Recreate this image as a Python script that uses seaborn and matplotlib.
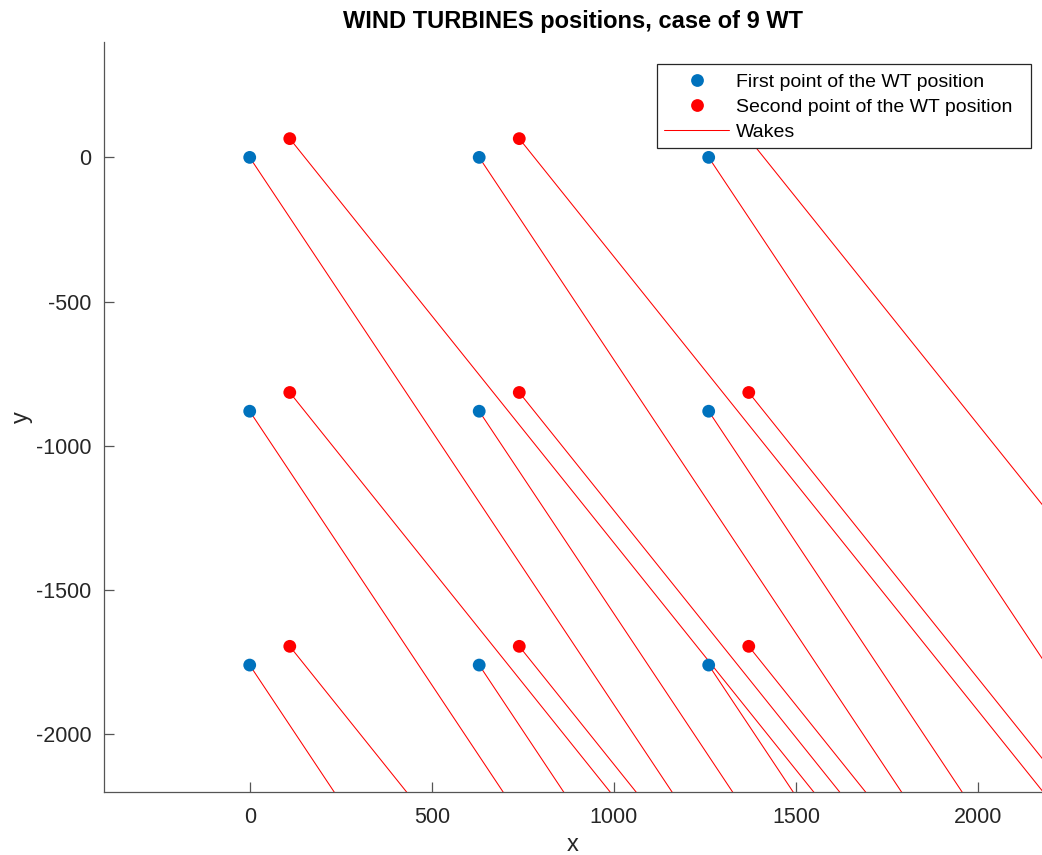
import numpy as np
import pandas as pd
import matplotlib
matplotlib.use("Agg")
import matplotlib.pyplot as plt
from matplotlib.lines import Line2D
from matplotlib.patches import Rectangle
import seaborn as sns

# Wind turbine layout: first and second reference points of each WT
first_x = [0, 630, 1260, 0, 630, 1260, 0, 630, 1260]
first_y = [0, 0, 0, -880, -880, -880, -1760, -1760, -1760]
second_x = [110, 740, 1370, 110, 740, 1370, 110, 740, 1370]
second_y = [65, 65, 65, -815, -815, -815, -1695, -1695, -1695]

# Wake direction, expressed as downstream x shift per unit drop in y
first_wake_dxdy = 0.527
second_wake_dxdy = 0.635
wake_drop = 3000.0

x_ticks = [0, 500, 1000, 1500, 2000]
y_ticks = [-2000, -1500, -1000, -500, 0]

sns.set_theme(style="white")
plt.rcParams["font.family"] = ["Liberation Sans", "DejaVu Sans"]

blue = "#0072BD"
red = "#FF0000"
dark = "#262626"
axis_grey = "#555555"

pts_first = pd.DataFrame({"x": first_x, "y": first_y})
pts_second = pd.DataFrame({"x": second_x, "y": second_y})

# Wake segments, one per point, running downstream from the point
rows = []
wid = 0
for xs, ys, k in ((first_x, first_y, first_wake_dxdy), (second_x, second_y, second_wake_dxdy)):
    for x0, y0 in zip(xs, ys):
        rows.append({"wake": wid, "x": x0, "y": y0})
        rows.append({"wake": wid, "x": x0 + k * wake_drop, "y": y0 - wake_drop})
        wid += 1
wakes = pd.DataFrame(rows)

W, H = 1042, 855
fig = plt.figure(figsize=(W / 100, H / 100), dpi=100)
ax = fig.add_axes([104 / W, (H - 792) / H, (W - 104) / W, (792 - 42) / H])

sns.lineplot(data=wakes, x="x", y="y", units="wake", estimator=None, sort=False,
             color=red, linewidth=0.75, ax=ax, legend=False, zorder=2)
sns.scatterplot(data=pts_first, x="x", y="y", color=blue, s=85, edgecolor="none",
                ax=ax, legend=False, zorder=3)
sns.scatterplot(data=pts_second, x="x", y="y", color=red, s=85, edgecolor="none",
                ax=ax, legend=False, zorder=3)

ax.set_xlim(-400, 2175)
ax.set_ylim(-2200, 400)
ax.set_xticks(x_ticks)
ax.set_yticks(y_ticks)
ax.set_xticklabels([str(v) for v in x_ticks])
ax.set_yticklabels([str(v) for v in y_ticks])

for side in ("top", "right"):
    ax.spines[side].set_visible(False)
for side in ("left", "bottom"):
    ax.spines[side].set_color(axis_grey)
    ax.spines[side].set_linewidth(0.9)
ax.tick_params(axis="both", direction="in", length=7, width=0.9, color=axis_grey,
               labelcolor=dark, labelsize=15.5)
ax.tick_params(axis="x", pad=11)
ax.tick_params(axis="y", pad=9)
ax.tick_params(left=True, bottom=True)

ax.set_xlabel("x", fontsize=17, color=dark, labelpad=4)
ax.set_ylabel("y", fontsize=17, color=dark, labelpad=2)
ax.set_title("WIND TURBINES positions, case of 9 WT", fontsize=17,
             fontweight="bold", color="black", pad=10)

# Legend box: white panel with a thin dark border, entries placed inside it
box_l, box_r, box_t, box_b = 657, 1031, 64, 148
frame = Rectangle((box_l / W, (H - box_b) / H), (box_r - box_l) / W, (box_b - box_t) / H,
                  transform=fig.transFigure, facecolor="white", edgecolor=dark,
                  linewidth=0.9, zorder=4, clip_on=False)
ax.add_patch(frame)

handles = [
    Line2D([], [], linestyle="none", marker="o", markersize=9.2, color=blue,
           markeredgecolor="none"),
    Line2D([], [], linestyle="none", marker="o", markersize=9.2, color=red,
           markeredgecolor="none"),
    Line2D([], [], color=red, linewidth=0.75),
]
labels = ["First point of the WT position", "Second point of the WT position", "Wakes"]
leg = ax.legend(handles, labels, loc="upper left",
                bbox_to_anchor=(664 / W, (H - 73) / H), bbox_transform=fig.transFigure,
                fontsize=14, frameon=False, handlelength=3.35, handletextpad=0.36,
                borderpad=0.0, labelspacing=0.38, borderaxespad=0)
leg.set_zorder(5)
for t in leg.get_texts():
    t.set_color("black")

fig.savefig("out.png", dpi=100)
